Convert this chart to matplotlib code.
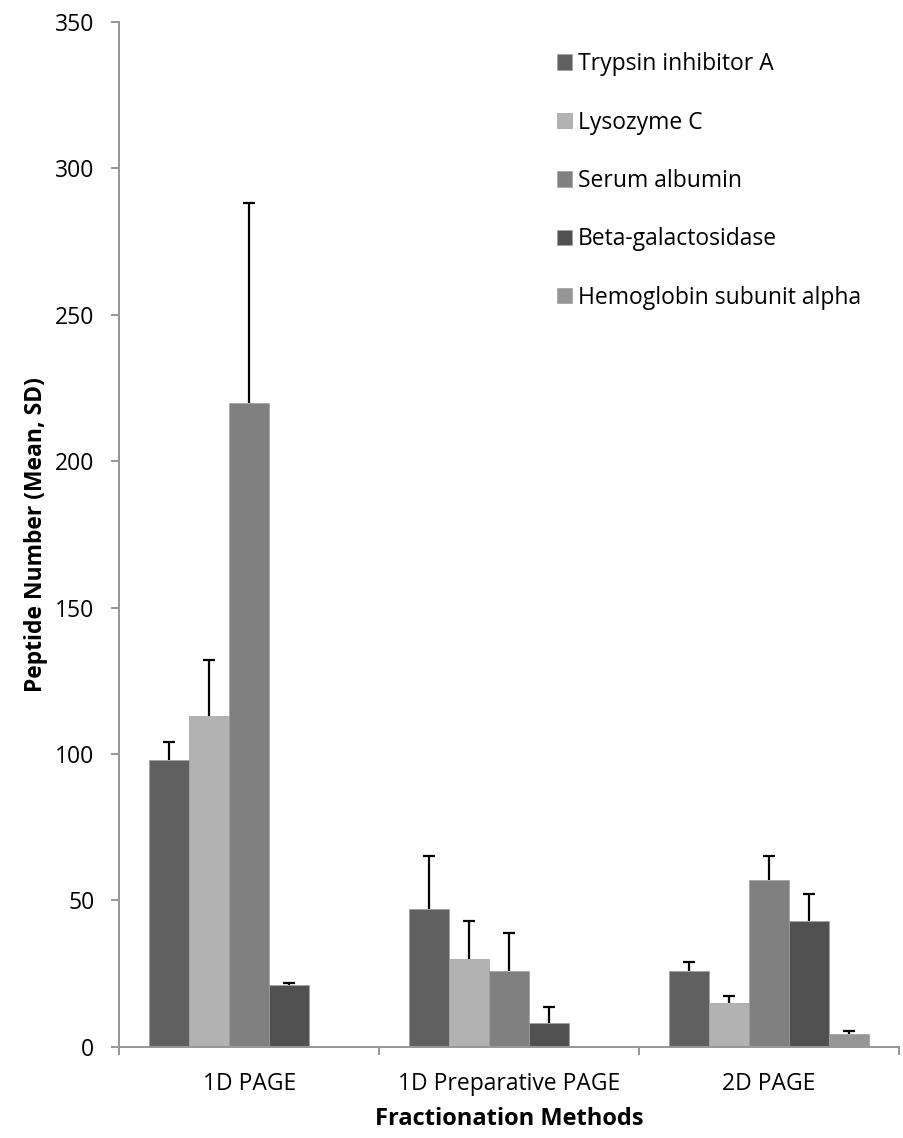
import numpy as np
import matplotlib
matplotlib.use("Agg")
import matplotlib.pyplot as plt

methods = ["1D PAGE", "1D Preparative PAGE", "2D PAGE"]
proteins = ["Trypsin inhibitor A", "Lysozyme C", "Serum albumin",
            "Beta-galactosidase", "Hemoglobin subunit alpha"]
colors = ["#606060", "#b2b2b2", "#808080", "#515151", "#969696"]

# mean peptide numbers, one list per protein (1D, 1D prep, 2D)
trypsin = [98, 47, 26]
lysozyme = [113, 30, 15]
albumin = [220, 26, 57]
betagal = [21, 8, 43]
hemoglobin = [0, 0, 4.3]
means = [trypsin, lysozyme, albumin, betagal, hemoglobin]

# standard deviations (only the upper whisker is drawn)
trypsin_sd = [6, 18, 3]
lysozyme_sd = [19, 13, 2.3]
albumin_sd = [68, 13, 8]
betagal_sd = [0.7, 5.7, 9.3]
hemoglobin_sd = [0, 0, 1.2]
sds = [trypsin_sd, lysozyme_sd, albumin_sd, betagal_sd, hemoglobin_sd]

plt.rcParams['font.family'] = ['Open Sans', 'DejaVu Sans']
fs = 16.5

fig = plt.figure(figsize=(9.04, 11.38), dpi=100)
ax = fig.add_axes([0.132, 0.0802, 0.8625, 0.9005])

x = np.arange(len(methods))
w = 0.1538
for i in range(len(proteins)):
    pos = x + (i - 2) * w
    ax.bar(pos, means[i], width=w, color=colors[i], edgecolor="#a0a0a0",
           linewidth=0.5, label=proteins[i])
    m = np.array(means[i], dtype=float)
    s = np.array(sds[i], dtype=float)
    keep = s > 0
    eb = ax.errorbar(pos[keep], m[keep], yerr=[np.zeros(keep.sum()), s[keep]],
                     fmt='none', ecolor='black', elinewidth=1.6, capsize=4.3,
                     capthick=1.6)
    # drop the cap at the bottom end (sits on the bar top)
    eb[1][0].set_visible(False)

ax.set_xlim(-0.5, 2.5)
ax.set_ylim(0, 350)
ax.set_yticks(np.arange(0, 351, 50))
ax.set_xticks([-0.5, 0.5, 1.5, 2.5])
ax.set_xticklabels([])
ax.set_xticks(x, minor=True)
ax.set_xticklabels(methods, minor=True)

for s in ["top", "right"]:
    ax.spines[s].set_visible(False)
for s in ["left", "bottom"]:
    ax.spines[s].set_color("#969696")
    ax.spines[s].set_linewidth(1.4)

ax.tick_params(axis='y', direction='out', length=6, width=1.4, color="#969696",
               labelsize=fs, pad=12)
ax.tick_params(axis='x', which='major', direction='out', length=6, width=1.4,
               color="#969696")
ax.tick_params(axis='x', which='minor', length=0, labelsize=fs, pad=18)

ax.set_ylabel("Peptide Number (Mean, SD)", fontsize=fs, fontweight='bold',
              labelpad=5)
ax.set_xlabel("Fractionation Methods", fontsize=17, fontweight='bold',
              labelpad=8)

ax.legend(loc='upper left', bbox_to_anchor=(0.561, 0.9705), frameon=False,
          fontsize=fs, handlelength=0.65, handleheight=0.65,
          handletextpad=0.26, labelspacing=1.5, borderpad=0, borderaxespad=0)

fig.savefig("out.png", dpi=100)
